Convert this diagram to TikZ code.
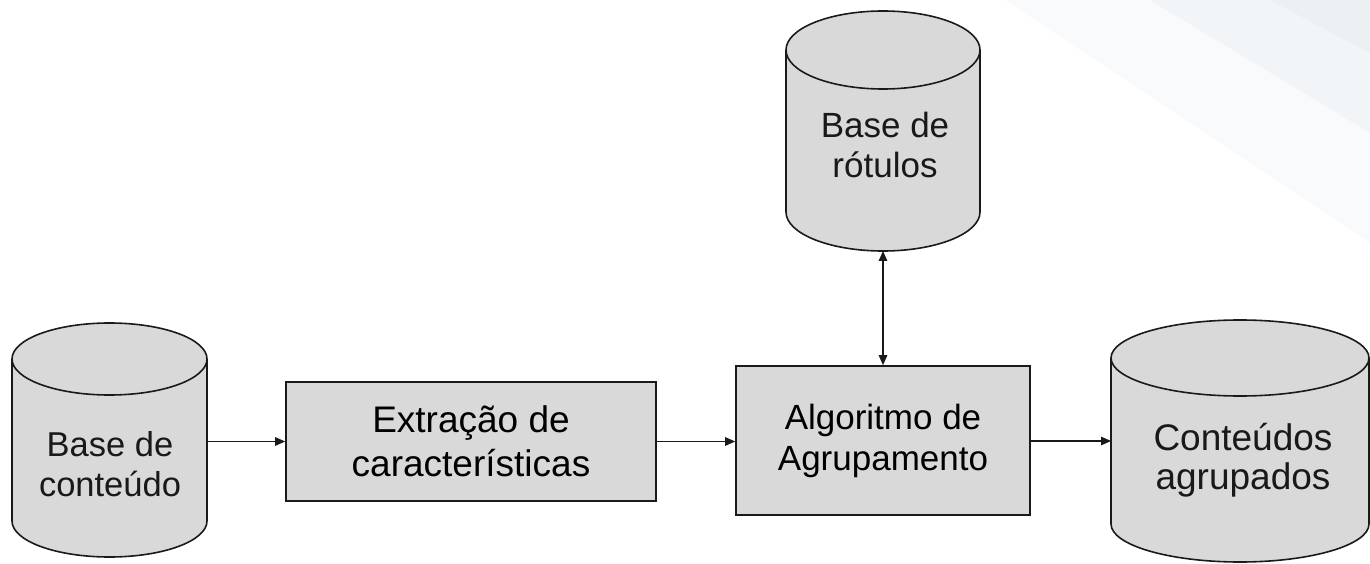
\documentclass[tikz,border=0pt]{standalone}
\usepackage{fontspec}
\setmainfont{Liberation Sans}
\usetikzlibrary{arrows.meta}
\definecolor{boxfill}{HTML}{D9D9D9}
\definecolor{edgecol}{HTML}{1A1A1A}
\definecolor{bgA}{HTML}{F8FAFB}
\definecolor{bgB}{HTML}{F2F5F7}
\definecolor{bgC}{HTML}{ECF0F3}
\tikzset{
  outline/.style={draw=edgecol, line width=1.6pt, fill=boxfill, line join=round},
  frontarc/.style={draw=edgecol, line width=1.6pt},
  procbox/.style={rectangle, fill=boxfill, draw=edgecol, line width=1.6pt, inner sep=0pt, align=center},
  holder/.style={rectangle, inner sep=0pt, outer sep=0pt, draw=none},
  lbl/.style={align=center, inner sep=0pt, text=black!90},
  arr/.style={draw=edgecol, line width=1.3pt, -{Triangle[length=10pt,width=8.5pt]}},
  darr/.style={draw=edgecol, line width=1.3pt, {Triangle[length=10pt,width=8.5pt]}-{Triangle[length=10pt,width=8.5pt]}},
}
\begin{document}
\begin{tikzpicture}[x=1pt,y=1pt]
\useasboundingbox (0,0) rectangle (1370,563);
% faint background pattern (top right)
\fill[bgA] (1005,563) -- (1370,563) -- (1370,320) -- cycle;
\fill[bgB] (1150,563) -- (1370,563) -- (1370,430) -- cycle;
\fill[bgB] (1150,563) -- (1290,563) -- (1310,470) -- cycle;
\fill[bgC] (1270,563) -- (1370,563) -- (1370,510) -- cycle;

% cylinder 1: Base de conteudo
\draw[outline] (12,204) -- (12,42) arc[start angle=180,end angle=360,x radius=97.5,y radius=36]
  -- (207,204) arc[start angle=0,end angle=180,x radius=97.5,y radius=36] -- cycle;
\draw[frontarc] (12,204) arc[start angle=180,end angle=360,x radius=97.5,y radius=36];
\node[holder, minimum width=195pt, minimum height=234pt] (c1) at (109.5,123) {};
\node[lbl, font=\fontsize{34.5}{40}\selectfont] (c1t) at (110,99) {Base de\\conteúdo};

% cylinder 2: Base de rotulos
\draw[outline] (786,513) -- (786,351) arc[start angle=180,end angle=360,x radius=97,y radius=39]
  -- (980,513) arc[start angle=0,end angle=180,x radius=97,y radius=39] -- cycle;
\draw[frontarc] (786,513) arc[start angle=180,end angle=360,x radius=97,y radius=39];
\node[holder, minimum width=194pt, minimum height=240pt] (c2) at (883,432) {};
\node[lbl, font=\fontsize{35}{40}\selectfont] (c2t) at (885,418.5) {Base de\\rótulos};

% cylinder 3: Conteudos agrupados
\draw[outline] (1111,205) -- (1111,39) arc[start angle=180,end angle=360,x radius=129,y radius=38]
  -- (1369,205) arc[start angle=0,end angle=180,x radius=129,y radius=38] -- cycle;
\draw[frontarc] (1111,205) arc[start angle=180,end angle=360,x radius=129,y radius=38];
\node[holder, minimum width=258pt, minimum height=242pt] (c3) at (1240,122) {};
\node[lbl, font=\fontsize{37}{39}\selectfont] (c3t) at (1243,102.5) {Conteúdos\\agrupados};

% process boxes
\node[procbox, minimum width=370pt, minimum height=119pt, font=\fontsize{37}{44}\selectfont] (r1) at (471,121.5) {Extração de\\características};
\node[procbox, minimum width=294pt, minimum height=149pt, font=\fontsize{35}{41}\selectfont] (r2) at (883,122.5) {Algoritmo de\\Agrupamento};

% connectors
\draw[arr] (c1.east |- r1.west) -- (r1.west);
\draw[arr] (r1.east) -- (r1.east -| r2.west);
\draw[arr] (r2.east |- c3.west) -- (c3.west);
\draw[darr] (c2.south) -- (r2.north);
\end{tikzpicture}
\end{document}
